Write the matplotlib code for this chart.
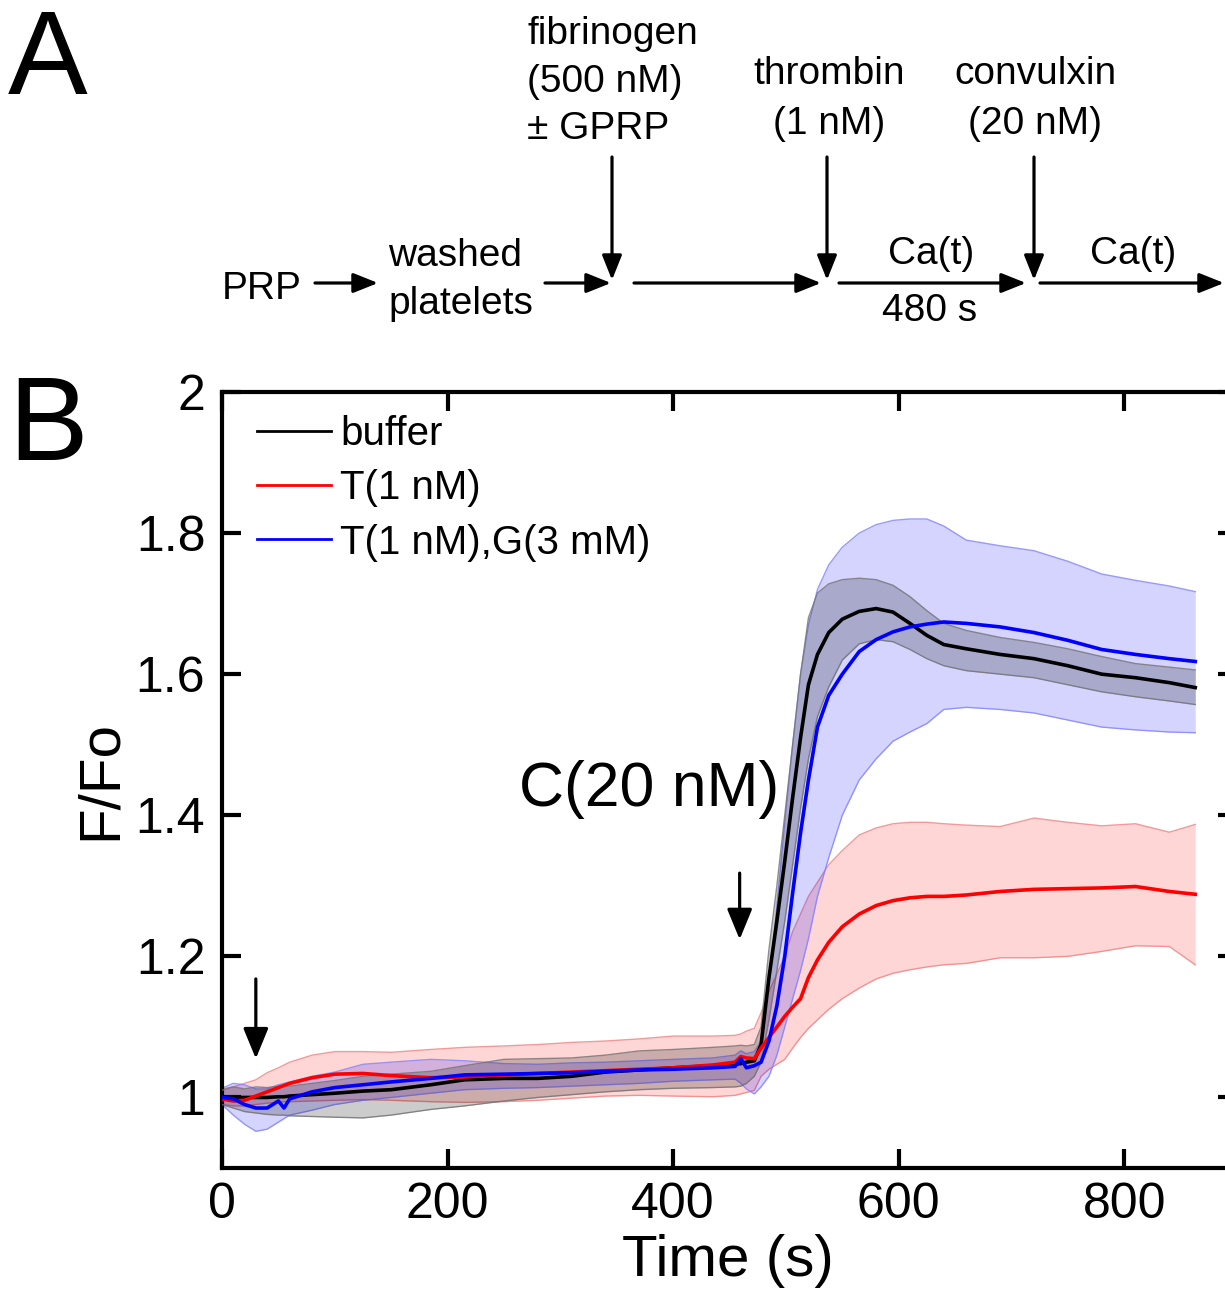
import matplotlib
matplotlib.use("Agg")
import matplotlib.pyplot as plt
from matplotlib.lines import Line2D

plt.rcParams['font.family'] = ['Liberation Sans', 'DejaVu Sans']

# ---------------- data ----------------
time_s = [0, 10, 20, 30, 40, 50, 55, 60, 80, 100, 125, 150, 185, 215, 250, 280, 310, 340,
          370, 400, 435, 455, 460, 465, 472, 478, 485, 492, 499, 506, 513, 520, 528, 538,
          550, 565, 580, 595, 610, 625, 640, 660, 690, 720, 750, 780, 810, 840, 863]

buffer_mean = [1.000, 1.000, 1.000, 1.000, 1.000, 1.001, 1.001, 1.002, 1.004, 1.006, 1.009, 1.011,
               1.018, 1.025, 1.027, 1.027, 1.030, 1.036, 1.039, 1.042, 1.045, 1.047, 1.048, 1.050,
               1.052, 1.075, 1.170, 1.250, 1.335, 1.425, 1.510, 1.585, 1.628, 1.659, 1.678, 1.689,
               1.693, 1.688, 1.672, 1.655, 1.642, 1.636, 1.628, 1.622, 1.612, 1.600, 1.595, 1.588, 1.581]
buffer_hi = [1.010, 1.015, 1.012, 1.015, 1.014, 1.016, 1.016, 1.016, 1.020, 1.024, 1.030, 1.033,
             1.037, 1.045, 1.054, 1.055, 1.056, 1.060, 1.066, 1.068, 1.071, 1.073, 1.074, 1.073,
             1.075, 1.100, 1.210, 1.300, 1.400, 1.500, 1.600, 1.680, 1.715, 1.728, 1.734, 1.736,
             1.734, 1.726, 1.710, 1.690, 1.672, 1.662, 1.652, 1.645, 1.636, 1.625, 1.615, 1.610, 1.606]
buffer_lo = [0.990, 0.985, 0.980, 0.978, 0.976, 0.975, 0.975, 0.974, 0.973, 0.972, 0.971, 0.975,
             0.983, 0.988, 0.995, 1.000, 1.004, 1.008, 1.011, 1.013, 1.014, 1.015, 1.016, 1.020,
             1.030, 1.050, 1.110, 1.180, 1.250, 1.330, 1.410, 1.480, 1.540, 1.582, 1.620, 1.643,
             1.649, 1.646, 1.635, 1.622, 1.612, 1.605, 1.600, 1.595, 1.585, 1.575, 1.568, 1.562, 1.557]

t_mean = [0.998, 0.995, 0.996, 1.002, 1.008, 1.014, 1.017, 1.020, 1.028, 1.033, 1.034, 1.031,
          1.028, 1.029, 1.032, 1.034, 1.036, 1.038, 1.040, 1.042, 1.046, 1.050, 1.058, 1.056,
          1.055, 1.070, 1.085, 1.100, 1.115, 1.128, 1.140, 1.170, 1.195, 1.220, 1.242, 1.260,
          1.272, 1.279, 1.283, 1.285, 1.285, 1.287, 1.292, 1.295, 1.296, 1.297, 1.299, 1.292, 1.288]
t_hi = [1.012, 1.015, 1.020, 1.025, 1.035, 1.042, 1.046, 1.050, 1.060, 1.065, 1.065, 1.064,
        1.068, 1.071, 1.073, 1.075, 1.078, 1.080, 1.083, 1.087, 1.087, 1.088, 1.090, 1.094,
        1.098, 1.120, 1.150, 1.175, 1.200, 1.235, 1.260, 1.285, 1.305, 1.330, 1.350, 1.372,
        1.382, 1.388, 1.390, 1.390, 1.388, 1.386, 1.384, 1.396, 1.390, 1.385, 1.388, 1.376, 1.387]
t_lo = [0.990, 0.988, 0.988, 0.990, 0.992, 0.993, 0.994, 0.994, 0.995, 0.996, 0.997, 0.996,
        0.994, 0.993, 0.994, 0.996, 0.999, 1.002, 1.003, 1.002, 1.001, 1.003, 1.005, 1.007,
        1.010, 1.030, 1.040, 1.047, 1.054, 1.070, 1.085, 1.098, 1.110, 1.125, 1.140, 1.155,
        1.168, 1.176, 1.181, 1.185, 1.188, 1.190, 1.198, 1.198, 1.200, 1.207, 1.215, 1.214, 1.188]

tg_mean = [1.000, 0.998, 0.990, 0.985, 0.985, 0.995, 0.985, 0.998, 1.008, 1.014, 1.018, 1.022,
           1.027, 1.032, 1.033, 1.034, 1.035, 1.037, 1.039, 1.040, 1.042, 1.044, 1.055, 1.042,
           1.045, 1.050, 1.080, 1.130, 1.200, 1.290, 1.375, 1.450, 1.525, 1.570, 1.600, 1.632,
           1.649, 1.660, 1.667, 1.671, 1.674, 1.672, 1.667, 1.659, 1.648, 1.635, 1.628, 1.622, 1.618]
tg_hi = [1.013, 1.020, 1.018, 1.012, 1.012, 1.018, 1.020, 1.022, 1.030, 1.036, 1.047, 1.050,
         1.054, 1.052, 1.048, 1.047, 1.049, 1.050, 1.052, 1.054, 1.056, 1.060, 1.066, 1.062,
         1.065, 1.080, 1.160, 1.270, 1.390, 1.500, 1.600, 1.670, 1.720, 1.755, 1.780, 1.800,
         1.812, 1.818, 1.820, 1.820, 1.810, 1.790, 1.782, 1.775, 1.760, 1.742, 1.733, 1.725, 1.717]
tg_lo = [0.990, 0.975, 0.962, 0.952, 0.955, 0.965, 0.970, 0.975, 0.982, 0.990, 0.996, 1.000,
         1.006, 1.011, 1.013, 1.014, 1.016, 1.018, 1.020, 1.023, 1.025, 1.026, 1.020, 1.012,
         1.005, 1.015, 1.030, 1.060, 1.100, 1.140, 1.180, 1.225, 1.285, 1.340, 1.400, 1.450,
         1.480, 1.505, 1.518, 1.530, 1.550, 1.553, 1.550, 1.545, 1.535, 1.525, 1.521, 1.518, 1.517]

labels = ['buffer', 'T(1 nM)', 'T(1 nM),G(3 mM)']
colors = ['black', '#ff0000', '#0000ff']
x_ticks = [0, 200, 400, 600, 800]
y_ticks = [1, 1.2, 1.4, 1.6, 1.8, 2]
y_ticklabels = ['1', '1.2', '1.4', '1.6', '1.8', '2']

# ---------------- figure ----------------
W, H = 1225, 1290
fig = plt.figure(figsize=(W / 100, H / 100), dpi=100)

# overlay in pixel coordinates for panel A schematic
ov = fig.add_axes([0, 0, 1, 1])
ov.set_xlim(0, W)
ov.set_ylim(H, 0)
ov.axis('off')
ov.patch.set_visible(False)

fs_a = 28
ov.text(8, 64, 'A', fontsize=86, ha='left', va='center')
ov.text(8, 430, 'B', fontsize=86, ha='left', va='center')

ov.text(262, 289, 'PRP', fontsize=fs_a, ha='center', va='center')
ov.text(388, 256, 'washed', fontsize=fs_a, ha='left', va='center')
ov.text(388, 304, 'platelets', fontsize=fs_a, ha='left', va='center')
ov.text(527, 34, 'fibrinogen', fontsize=fs_a, ha='left', va='center')
ov.text(527, 82, '(500 nM)', fontsize=fs_a, ha='left', va='center')
ov.text(527, 129, '\u00b1 GPRP', fontsize=fs_a, ha='left', va='center')
ov.text(829, 74, 'thrombin', fontsize=fs_a, ha='center', va='center')
ov.text(829, 124, '(1 nM)', fontsize=fs_a, ha='center', va='center')
ov.text(1035, 74, 'convulxin', fontsize=fs_a, ha='center', va='center')
ov.text(1035, 124, '(20 nM)', fontsize=fs_a, ha='center', va='center')
ov.text(931, 254, 'Ca(t)', fontsize=fs_a, ha='center', va='center')
ov.text(930, 311, '480 s', fontsize=fs_a, ha='center', va='center')
ov.text(1133, 254, 'Ca(t)', fontsize=fs_a, ha='center', va='center')

aprops = dict(arrowstyle='-|>,head_length=0.75,head_width=0.3', lw=2.3, color='black',
              mutation_scale=20, shrinkA=0, shrinkB=0)
for x0, x1 in [(315, 378), (545, 611), (634, 821), (839, 1026), (1040, 1224)]:
    ov.annotate('', xy=(x1, 283), xytext=(x0, 283), arrowprops=aprops)
for xv in [612, 827, 1034]:
    ov.annotate('', xy=(xv, 280), xytext=(xv, 157), arrowprops=aprops)

# ---------------- panel B ----------------
left_px, right_px, top_px, bot_px = 222, 1237, 392, 1168
ax = fig.add_axes([left_px / W, 1 - bot_px / H, (right_px - left_px) / W, (bot_px - top_px) / H])
ax.set_xlim(0, 900)
ax.set_ylim(0.9, 2.0)

series = [(buffer_mean, buffer_lo, buffer_hi), (t_mean, t_lo, t_hi), (tg_mean, tg_lo, tg_hi)]
fill_alpha = [0.2, 0.16, 0.17]
edge_cols = ['#707070', '#f08080', '#8080ff']
zorders_fill = [3, 1, 2]
for (m, lo, hi), c, fa, ec, zf in zip(series, colors, fill_alpha, edge_cols, zorders_fill):
    ax.fill_between(time_s, lo, hi, color=c, alpha=fa, lw=0, zorder=zf)
    ax.plot(time_s, lo, color=ec, lw=1.0, alpha=0.8, zorder=zf)
    ax.plot(time_s, hi, color=ec, lw=1.0, alpha=0.8, zorder=zf)

line_z = [5, 6, 7]
for (m, lo, hi), c, lab, z in zip(series, colors, labels, line_z):
    ax.plot(time_s, m, color=c, lw=2.6, zorder=z, label=lab)

leg_handles = [Line2D([], [], color=c, lw=2.0) for c in colors]
ax.legend(leg_handles, labels, loc='upper left', bbox_to_anchor=(0.034, 0.97),
          frameon=False, fontsize=29, handlelength=1.85, handletextpad=0.22,
          labelspacing=0.4, borderpad=0, borderaxespad=0)

# event arrows
bprops = dict(arrowstyle='-|>,head_length=0.85,head_width=0.35', lw=2.3, color='black',
              mutation_scale=22, shrinkA=0, shrinkB=0)
ax.annotate('', xy=(30, 1.055), xytext=(30, 1.168), arrowprops=bprops, zorder=10)
ax.annotate('', xy=(459, 1.224), xytext=(459, 1.318), arrowprops=bprops, zorder=10)
ax.text(379, 1.436, 'C(20 nM)', fontsize=45, ha='center', va='center')

ax.set_xticks(x_ticks)
ax.set_yticks(y_ticks)
ax.set_yticklabels(y_ticklabels)
ax.tick_params(direction='in', length=14, width=3, top=True, right=True,
               labelsize=36, pad=10)
ax.tick_params(axis='y', pad=12)
for sp in ax.spines.values():
    sp.set_linewidth(3)
ax.set_xlabel('Time (s)', fontsize=42, va='baseline')
ax.set_ylabel('F/Fo', fontsize=42)
ax.xaxis.set_label_coords((728 - left_px) / (right_px - left_px), -(1276 - bot_px) / (bot_px - top_px))
ax.yaxis.set_label_coords(-(222 - 128) / (right_px - left_px), 0.5)

fig.savefig('out.png', dpi=100)
